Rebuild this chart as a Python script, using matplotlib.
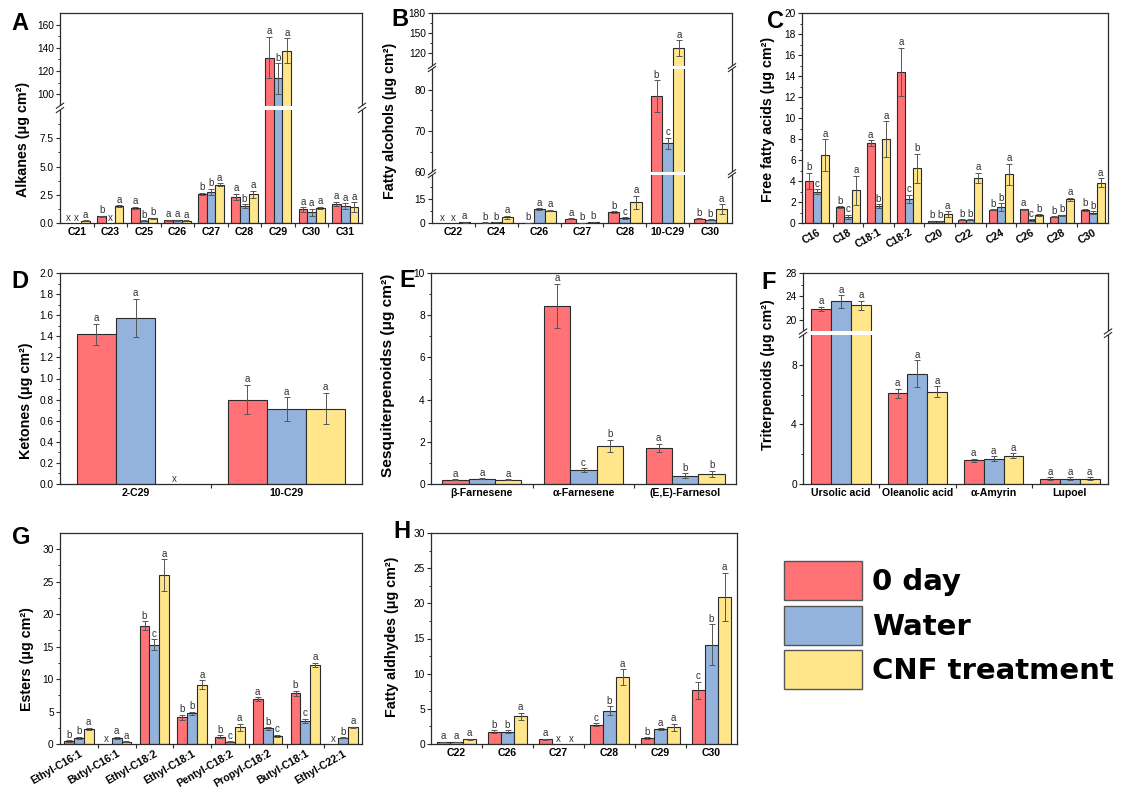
import numpy as np
import matplotlib
matplotlib.use('Agg')
import matplotlib.pyplot as plt
import matplotlib.transforms as mtransforms
from matplotlib.patches import Patch, Rectangle
from matplotlib.ticker import FixedLocator, FixedFormatter

plt.rcParams['font.family'] = ['Liberation Sans', 'DejaVu Sans']
nan = np.nan

# ---------------- data ----------------
series_names = ['0 day', 'Water', 'CNF treatment']

A_cats = ['C21', 'C23', 'C25', 'C26', 'C27', 'C28', 'C29', 'C30', 'C31']
A_day0 = [nan, 0.6, 1.35, 0.25, 2.6, 2.3, 131.5, 1.2, 1.7]
A_day0_err = [nan, 0.05, 0.08, 0.05, 0.08, 0.3, 18, 0.2, 0.2]
A_water = [nan, nan, 0.2, 0.25, 2.75, 1.5, 113.5, 0.95, 1.5]
A_water_err = [nan, nan, 0.05, 0.05, 0.3, 0.15, 13, 0.3, 0.25]
A_cnf = [0.2, 1.5, 0.4, 0.2, 3.4, 2.55, 137.5, 1.35, 1.4]
A_cnf_err = [0.05, 0.1, 0.05, 0.05, 0.1, 0.3, 11, 0.1, 0.45]
A_sig_day0 = ['x', 'b', 'a', 'a', 'b', 'a', 'a', 'a', 'a']
A_sig_water = ['x', 'x', 'b', 'a', 'b', 'b', 'b', 'a', 'a']
A_sig_cnf = ['a', 'a', 'b', 'a', 'a', 'a', 'a', 'a', 'a']

B_cats = ['C22', 'C24', 'C26', 'C27', 'C28', '10-C29', 'C30']
B_day0 = [nan, 0.3, 0.15, 2.8, 6.8, 78.5, 2.8]
B_day0_err = [nan, 0.1, 0.05, 0.3, 0.6, 3.8, 0.3]
B_water = [nan, 0.5, 8.5, 0.1, 3.3, 67.0, 2.0]
B_water_err = [nan, 0.1, 0.6, 0.05, 0.5, 1.4, 0.3]
B_cnf = [0.5, 3.5, 7.8, 0.6, 13.0, 127.0, 8.7]
B_cnf_err = [0.2, 1.0, 0.4, 0.1, 4.0, 12.0, 3.0]
B_sig_day0 = ['x', 'b', 'b', 'a', 'b', 'b', 'b']
B_sig_water = ['x', 'b', 'a', 'b', 'c', 'c', 'b']
B_sig_cnf = ['a', 'a', 'a', 'b', 'a', 'a', 'a']

C_cats = ['C16', 'C18', 'C18:1', 'C18:2', 'C20', 'C22', 'C24', 'C26', 'C28', 'C30']
C_day0 = [4.0, 1.5, 7.6, 14.4, 0.15, 0.3, 1.25, 1.3, 0.6, 1.25]
C_day0_err = [0.8, 0.1, 0.3, 2.3, 0.05, 0.05, 0.05, 0.05, 0.05, 0.1]
C_water = [3.0, 0.6, 1.6, 2.3, 0.15, 0.3, 1.5, 0.25, 0.75, 1.0]
C_water_err = [0.2, 0.2, 0.2, 0.4, 0.05, 0.05, 0.4, 0.1, 0.05, 0.1]
C_cnf = [6.5, 3.1, 8.0, 5.2, 0.85, 4.3, 4.65, 0.75, 2.25, 3.85]
C_cnf_err = [1.5, 1.4, 1.7, 1.4, 0.25, 0.5, 1.0, 0.1, 0.15, 0.4]
C_sig_day0 = ['b', 'b', 'a', 'a', 'b', 'b', 'b', 'a', 'b', 'b']
C_sig_water = ['c', 'c', 'b', 'c', 'b', 'b', 'b', 'c', 'b', 'b']
C_sig_cnf = ['a', 'a', 'a', 'b', 'a', 'a', 'a', 'b', 'a', 'a']

D_cats = ['2-C29', '10-C29']
D_day0 = [1.42, 0.80]
D_day0_err = [0.10, 0.14]
D_water = [1.575, 0.71]
D_water_err = [0.18, 0.11]
D_cnf = [nan, 0.715]
D_cnf_err = [nan, 0.15]
D_sig_day0 = ['a', 'a']
D_sig_water = ['a', 'a']
D_sig_cnf = ['x', 'a']

E_cats = ['β-Farnesene', 'α-Farnesene', '(E,E)-Farnesol']
E_day0 = [0.2, 8.45, 1.7]
E_day0_err = [0.03, 1.05, 0.2]
E_water = [0.25, 0.65, 0.4]
E_water_err = [0.03, 0.1, 0.1]
E_cnf = [0.2, 1.8, 0.48]
E_cnf_err = [0.03, 0.3, 0.15]
E_sig_day0 = ['a', 'a', 'a']
E_sig_water = ['a', 'c', 'b']
E_sig_cnf = ['a', 'b', 'b']

F_cats = ['Ursolic acid', 'Oleanolic acid', 'α-Amyrin', 'Lupoel']
F_day0 = [21.85, 6.1, 1.6, 0.35]
F_day0_err = [0.4, 0.3, 0.1, 0.1]
F_water = [23.15, 7.4, 1.7, 0.35]
F_water_err = [1.1, 0.9, 0.15, 0.1]
F_cnf = [22.45, 6.2, 1.9, 0.35]
F_cnf_err = [0.8, 0.35, 0.15, 0.1]
F_sig_day0 = ['a', 'a', 'a', 'a']
F_sig_water = ['a', 'a', 'a', 'a']
F_sig_cnf = ['a', 'a', 'a', 'a']

G_cats = ['Ethyl-C16:1', 'Butyl-C16:1', 'Ethyl-C18:2', 'Ethyl-C18:1',
          'Pentyl-C18:2', 'Propyl-C18:2', 'Butyl-C18:1', 'Ethyl-C22:1']
G_day0 = [0.45, nan, 18.2, 4.1, 1.15, 6.9, 7.8, nan]
G_day0_err = [0.1, nan, 0.7, 0.4, 0.2, 0.35, 0.4, nan]
G_water = [0.9, 0.9, 15.3, 4.7, 0.35, 2.4, 3.55, 0.95]
G_water_err = [0.2, 0.2, 0.8, 0.3, 0.1, 0.2, 0.35, 0.1]
G_cnf = [2.3, 0.35, 26.0, 9.1, 2.55, 1.3, 12.2, 2.55]
G_cnf_err = [0.2, 0.1, 2.5, 0.7, 0.6, 0.15, 0.3, 0.1]
G_sig_day0 = ['b', 'x', 'b', 'b', 'b', 'a', 'b', 'x']
G_sig_water = ['b', 'a', 'c', 'b', 'c', 'b', 'c', 'b']
G_sig_cnf = ['a', 'a', 'a', 'a', 'a', 'c', 'a', 'a']

H_cats = ['C22', 'C26', 'C27', 'C28', 'C29', 'C30']
H_day0 = [0.3, 1.75, 0.65, 2.75, 0.85, 7.65]
H_day0_err = [0.05, 0.2, 0.1, 0.2, 0.15, 1.2]
H_water = [0.3, 1.75, nan, 4.75, 2.1, 14.1]
H_water_err = [0.05, 0.25, nan, 0.6, 0.15, 2.9]
H_cnf = [0.65, 3.95, nan, 9.5, 2.4, 20.95]
H_cnf_err = [0.1, 0.5, nan, 1.1, 0.5, 3.4]
H_sig_day0 = ['a', 'b', 'a', 'c', 'b', 'c']
H_sig_water = ['a', 'b', 'x', 'b', 'a', 'b']
H_sig_cnf = ['a', 'a', 'x', 'a', 'a', 'a']

# ---------------- style ----------------
COLORS = ['#FF7377', '#94B3DC', '#FFE68A']
EDGE = '#2b2b2b'
ECOL = '#555555'
W = 0.26
W_PX, H_PX = 1126, 791

fig = plt.figure(figsize=(W_PX / 100, H_PX / 100), dpi=100)


def rect(l, t, r, b):
    return [l / W_PX, 1 - b / H_PX, (r - l) / W_PX, (b - t) / H_PX]


def piecewise(ys, fs):
    ys = np.asarray(ys, float)
    fs = np.asarray(fs, float)

    def mk(xp, fp):
        s0 = (fp[1] - fp[0]) / (xp[1] - xp[0])
        s1 = (fp[-1] - fp[-2]) / (xp[-1] - xp[-2])

        def f(v):
            v = np.asarray(v, float)
            out = np.interp(v, xp, fp)
            out = np.where(v < xp[0], fp[0] + (v - xp[0]) * s0, out)
            out = np.where(v > xp[-1], fp[-1] + (v - xp[-1]) * s1, out)
            return out
        return f
    return mk(ys, fs), mk(fs, ys)


def add_break(ax, fwd, ylo, yhi):
    trans = mtransforms.blended_transform_factory(ax.transAxes, ax.transData)
    ax.add_patch(Rectangle((-0.025, ylo), 1.05, yhi - ylo, transform=trans,
                           facecolor='white', edgecolor='none', zorder=10,
                           clip_on=False))
    for f in (float(fwd(ylo)), float(fwd(yhi))):
        for x0 in (0, 1):
            ax.plot([x0 - 0.012, x0 + 0.012], [f - 0.012, f + 0.012],
                    transform=ax.transAxes, color=EDGE, lw=0.8,
                    clip_on=False, zorder=11)


def panel(box, cats, vals, errs, sigs, ylim, yticks, ylabels, yminor,
          ylabel, lab_xy, scale=None, breaks=(), rot=0, ylsize=10.3):
    ax = fig.add_axes(rect(*box))
    fwd = None
    if scale is not None:
        fwd, inv = piecewise(*scale)
        ax.set_yscale('function', functions=(fwd, inv))
    x = np.arange(1, len(cats) + 1)
    for k in range(3):
        xs = x + (k - 1) * W
        v = np.array(vals[k], float)
        e = np.array(errs[k], float)
        ax.bar(xs, v, W, color=COLORS[k], edgecolor=EDGE, linewidth=0.8,
               zorder=2)
        ax.errorbar(xs, v, yerr=e, fmt='none', ecolor=ECOL, elinewidth=0.7,
                    capsize=2, capthick=0.7, zorder=3)
        for xi, vi, ei, s in zip(xs, v, e, sigs[k]):
            if np.isnan(vi):
                ax.annotate('x', (xi, ylim[0]), xytext=(0, 0.3),
                            textcoords='offset points', ha='center',
                            va='bottom', fontsize=7, color='#333333',
                            zorder=4)
            else:
                ax.annotate(s, (xi, vi + ei), xytext=(0, 0.3),
                            textcoords='offset points', ha='center',
                            va='bottom', fontsize=7, color='#333333',
                            zorder=4)
    ax.set_xlim(0.5, len(cats) + 0.5)
    ax.set_ylim(*ylim)
    ax.set_xticks(x)
    if rot:
        ax.set_xticklabels(cats, fontsize=7.6, fontweight='bold', rotation=rot,
                           ha='right', rotation_mode='anchor')
    else:
        ax.set_xticklabels(cats, fontsize=7.6, fontweight='bold')
    ax.xaxis.set_minor_locator(FixedLocator(np.arange(1.5, len(cats), 1.0)))
    ax.tick_params(axis='x', which='major', length=0, pad=3)
    ax.tick_params(axis='x', which='minor', length=3, width=0.8,
                   direction='out', color=EDGE)
    ax.yaxis.set_major_locator(FixedLocator(yticks))
    ax.yaxis.set_major_formatter(FixedFormatter(ylabels))
    ax.yaxis.set_minor_locator(FixedLocator(yminor))
    ax.tick_params(axis='y', which='major', length=3, width=0.8,
                   direction='out', labelsize=7.3, color=EDGE, pad=1.5)
    ax.tick_params(axis='y', which='minor', length=1.8, width=0.7,
                   direction='out', color=EDGE)
    for sp in ax.spines.values():
        sp.set_linewidth(0.9)
        sp.set_color(EDGE)
    ax.set_ylabel(ylabel, fontsize=ylsize, fontweight='bold')
    # label centre given in figure pixels; anchor is the right (descent) side
    l, t, r, b = box
    cx, cy = lab_xy
    ax.yaxis.set_label_coords((cx + 0.55 * ylsize * 1.389 * 0.5 + 3.5 - l) / (r - l),
                              (b - cy) / (b - t))
    for (a, bb) in breaks:
        add_break(ax, fwd, a, bb)
    return ax


UNIT = ' (μg cm²)'

panel((60, 13, 362, 223), A_cats,
      [A_day0, A_water, A_cnf], [A_day0_err, A_water_err, A_cnf_err],
      [A_sig_day0, A_sig_water, A_sig_cnf], (0, 170),
      [0, 2.5, 5, 7.5, 100, 120, 140, 160],
      ['0.0', '2.5', '5.0', '7.5', '100', '120', '140', '160'],
      [1.25, 3.75, 6.25, 8.75, 110, 130, 150],
      'Alkanes' + UNIT, (22.5, 139),
      scale=([0, 10, 90, 170], [0, 0.538, 0.5585, 1.0]),
      breaks=[(10, 90)])

panel((432, 13, 732, 223), B_cats,
      [B_day0, B_water, B_cnf], [B_day0_err, B_water_err, B_cnf_err],
      [B_sig_day0, B_sig_water, B_sig_cnf], (0, 180),
      [0, 15, 60, 70, 80, 120, 150, 180],
      ['0', '15', '60', '70', '80', '120', '150', '180'],
      [7.5, 22.5, 65, 75, 135, 165],
      'Fatty alcohols' + UNIT, (390, 121),
      scale=([0, 30, 60, 85, 100, 180], [0, 0.228, 0.242, 0.733, 0.747, 1.0]),
      breaks=[(30, 60), (85, 100)])

panel((802, 13, 1108, 223), C_cats,
      [C_day0, C_water, C_cnf], [C_day0_err, C_water_err, C_cnf_err],
      [C_sig_day0, C_sig_water, C_sig_cnf], (0, 20),
      list(range(0, 21, 2)), [str(v) for v in range(0, 21, 2)],
      list(range(1, 20, 2)), 'Free fatty acids' + UNIT, (768, 119), rot=30)

panel((60, 273, 362, 484), D_cats,
      [D_day0, D_water, D_cnf], [D_day0_err, D_water_err, D_cnf_err],
      [D_sig_day0, D_sig_water, D_sig_cnf], (0, 2.0),
      list(np.arange(0, 2.01, 0.2)),
      ['%.1f' % v for v in np.arange(0, 2.01, 0.2)],
      list(np.arange(0.1, 2.0, 0.2)), 'Ketones' + UNIT, (26, 401))

panel((431, 273, 736, 484), E_cats,
      [E_day0, E_water, E_cnf], [E_day0_err, E_water_err, E_cnf_err],
      [E_sig_day0, E_sig_water, E_sig_cnf], (0, 10),
      list(range(0, 11, 2)), [str(v) for v in range(0, 11, 2)],
      list(range(1, 10, 2)), 'Sesquiterpenoidss' + UNIT, (387, 375),
      ylsize=11.1)

panel((803, 273, 1108, 484), F_cats,
      [F_day0, F_water, F_cnf], [F_day0_err, F_water_err, F_cnf_err],
      [F_sig_day0, F_sig_water, F_sig_cnf], (0, 28),
      [0, 4, 8, 20, 24, 28], ['0', '4', '8', '20', '24', '28'],
      [2, 6, 22, 26], 'Triterpenoids' + UNIT, (768, 375),
      scale=([0, 10, 18, 28], [0, 0.706, 0.723, 1.0]), breaks=[(10, 18)])

panel((60, 533, 362, 744), G_cats,
      [G_day0, G_water, G_cnf], [G_day0_err, G_water_err, G_cnf_err],
      [G_sig_day0, G_sig_water, G_sig_cnf], (0, 32.5),
      list(range(0, 31, 5)), [str(v) for v in range(0, 31, 5)],
      list(np.arange(2.5, 32, 5)), 'Esters' + UNIT, (27, 659), rot=30)

panel((431, 533, 737, 744), H_cats,
      [H_day0, H_water, H_cnf], [H_day0_err, H_water_err, H_cnf_err],
      [H_sig_day0, H_sig_water, H_sig_cnf], (0, 30),
      list(range(0, 31, 5)), [str(v) for v in range(0, 31, 5)],
      list(np.arange(2.5, 30, 5)), 'Fatty aldhydes' + UNIT, (392, 637))

# panel letters
letters = [('A', 11, 12), ('B', 391, 8), ('C', 767, 10), ('D', 11, 270),
           ('E', 399, 269), ('F', 761, 271), ('G', 12, 526), ('H', 393, 520)]
for s, lx, ly in letters:
    fig.text(lx / W_PX, 1 - ly / H_PX, s, fontsize=17, fontweight='bold',
             ha='left', va='top')

# legend
handles = [Patch(facecolor=c, edgecolor='#555555', linewidth=1.0) for c in COLORS]
fig.legend(handles, series_names, loc='upper left',
           bbox_to_anchor=(784 / W_PX, 1 - 561 / H_PX), frameon=False,
           prop={'size': 21, 'weight': 'bold', 'family': 'DejaVu Sans'},
           handlelength=2.67, handleheight=1.68, labelspacing=0.19,
           handletextpad=0.34, borderpad=0, borderaxespad=0)

fig.savefig('out.png', dpi=100)
